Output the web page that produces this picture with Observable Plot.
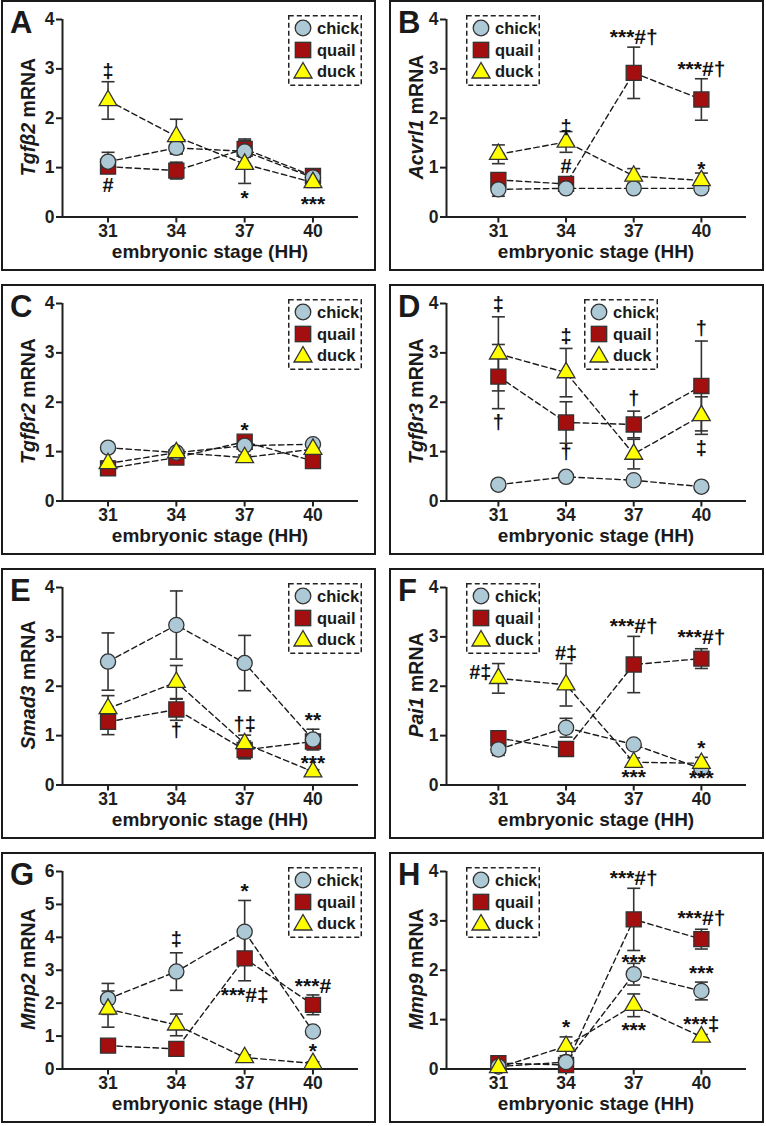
<!DOCTYPE html>
<html><head><meta charset="utf-8">
<script src="https://cdn.jsdelivr.net/npm/d3@7"></script>
<script src="https://cdn.jsdelivr.net/npm/@observablehq/plot@0.6"></script>
<style>
html,body{margin:0;padding:0;background:#fff;}
body{font-family:"Liberation Sans",Arial,Helvetica,sans-serif;color:#1a1a1a;}
#fig{position:relative;width:766px;height:1126px;overflow:hidden;background:#fff;}
.panel{position:absolute;width:375px;height:271px;box-sizing:border-box;border:2px solid #1a1a1a;}
.inner{position:absolute;left:-2px;top:-2px;width:375px;height:271px;}
.inner > svg{position:absolute;left:0;top:0;}
.letter{position:absolute;font-size:31px;font-weight:bold;line-height:1;}
.ylab{position:absolute;font-size:19.5px;font-weight:bold;white-space:nowrap;line-height:1;transform:translate(-50%,-50%) rotate(-90deg);}
.xlab{position:absolute;font-size:19px;font-weight:bold;white-space:nowrap;line-height:1;transform:translate(-50%,-50%);}
.legend{position:absolute;width:74px;height:71px;}
.legend .frame{position:absolute;left:0;top:0;}
.legend .sym{position:absolute;width:20px;height:20px;}
.legend .lab{position:absolute;font-size:16.5px;font-weight:bold;line-height:1;transform:translateY(-50%);}
</style>
</head><body>
<div id="fig"></div>
<script>
const stages = [31, 34, 37, 40];
const speciesNames = ["chick", "quail", "duck"];
const colors = {chick: "#adc9d5", quail: "#a30e0e", duck: "#ffff00"};

// A: Tgfb2
const A_chick = [1.12, 1.40, 1.33, 0.80];
const A_chick_se = [0.19, 0.12, 0.25, 0.05];
const A_quail = [1.02, 0.94, 1.38, 0.83];
const A_quail_se = [0.08, 0.17, 0.17, 0.05];
const A_duck = [2.36, 1.63, 1.07, 0.70];
const A_duck_se = [0.38, 0.35, 0.39, 0.10];
const A_notes = [[31, 2.94, "‡"], [31, 0.63, "#"], [37, 0.47, "*"], [40, 0.33, "***"]];

// B: Acvrl1
const B_chick = [0.56, 0.58, 0.58, 0.58];
const B_chick_se = [0.14, 0.05, 0.05, 0.05];
const B_quail = [0.75, 0.67, 2.92, 2.38];
const B_quail_se = [0.10, 0.05, 0.52, 0.42];
const B_duck = [1.27, 1.52, 0.83, 0.74];
const B_duck_se = [0.19, 0.21, 0.15, 0.15];
const B_notes = [[34, 1.82, "‡"], [34, 1.02, "#"], [37, 3.72, "***#†"], [40, 3.07, "***#†"], [40, 1.05, "*"]];

// C: Tgfbr2
const C_chick = [1.08, 0.98, 1.12, 1.15];
const C_chick_se = [0.05, 0.05, 0.05, 0.05];
const C_quail = [0.66, 0.88, 1.20, 0.81];
const C_quail_se = [0.12, 0.05, 0.05, 0.05];
const C_duck = [0.76, 0.98, 0.88, 1.05];
const C_duck_se = [0.05, 0.05, 0.05, 0.05];
const C_notes = [[37, 1.51, "*"]];

// D: Tgfbr3
const D_chick = [0.33, 0.49, 0.42, 0.29];
const D_chick_se = [0.03, 0.05, 0.05, 0.03];
const D_quail = [2.52, 1.59, 1.55, 2.33];
const D_quail_se = [0.65, 0.42, 0.27, 0.91];
const D_duck = [2.98, 2.60, 0.95, 1.73];
const D_duck_se = [0.75, 0.49, 0.30, 0.38];
const D_notes = [[31, 3.98, "‡"], [31, 1.59, "†"], [34, 3.32, "‡"], [34, 0.98, "†"], [37, 2.07, "†"], [40, 3.49, "†"], [40, 1.06, "‡"]];

// E: Smad3
const E_chick = [2.50, 3.24, 2.47, 0.92];
const E_chick_se = [0.58, 0.69, 0.56, 0.21];
const E_quail = [1.28, 1.53, 0.71, 0.88];
const E_quail_se = [0.26, 0.22, 0.18, 0.10];
const E_duck = [1.55, 2.08, 0.84, 0.27];
const E_duck_se = [0.26, 0.34, 0.17, 0.04];
const E_notes = [[34, 1.11, "†"], [37, 1.22, "†‡"], [40, 1.40, "**"], [40, 0.53, "***"]];

// F: Pai1
const F_chick = [0.72, 1.16, 0.82, 0.33];
const F_chick_se = [0.12, 0.19, 0.08, 0.05];
const F_quail = [0.95, 0.73, 2.44, 2.56];
const F_quail_se = [0.14, 0.08, 0.57, 0.20];
const F_duck = [2.16, 2.03, 0.46, 0.44];
const F_duck_se = [0.30, 0.43, 0.09, 0.12];
const F_notes = [[30.2, 2.27, "#‡"], [34, 2.67, "#‡"], [37, 3.29, "***#†"], [40, 3.08, "***#†"], [40, 0.82, "*"], [37, 0.24, "***"], [40, 0.22, "***"]];

// G: Mmp2
const G_chick = [2.13, 2.96, 4.17, 1.14];
const G_chick_se = [0.47, 0.57, 0.95, 0.10];
const G_quail = [0.71, 0.61, 3.36, 1.95];
const G_quail_se = [0.10, 0.10, 0.68, 0.30];
const G_duck = [1.82, 1.34, 0.35, 0.17];
const G_duck_se = [0.55, 0.33, 0.08, 0.05];
const G_notes = [[34, 3.92, "‡"], [37, 5.52, "*"], [37, 2.35, "***#‡"], [40, 2.65, "***#"], [40, 0.66, "*"]];

// H: Mmp9
const H_chick = [0.05, 0.14, 1.92, 1.58];
const H_chick_se = [0.03, 0.08, 0.22, 0.18];
const H_quail = [0.12, 0.08, 3.03, 2.63];
const H_quail_se = [0.05, 0.05, 0.63, 0.20];
const H_duck = [0.03, 0.46, 1.29, 0.65];
const H_duck_se = [0.02, 0.19, 0.23, 0.05];
const H_notes = [[34, 0.92, "*"], [37, 3.95, "***#†"], [40, 3.13, "***#†"], [37, 2.24, "***"], [40, 2.01, "***"], [37, 0.86, "***"], [40, 0.99, "***‡"]];

const panels = [
  {id: "A", gene: "Tgfβ2", ymax: 4, col: 0, row: 0, leg: 287, s: {chick: [A_chick, A_chick_se], quail: [A_quail, A_quail_se], duck: [A_duck, A_duck_se]}, notes: A_notes},
  {id: "B", gene: "Acvrl1", ymax: 4, col: 1, row: 0, leg: 77, s: {chick: [B_chick, B_chick_se], quail: [B_quail, B_quail_se], duck: [B_duck, B_duck_se]}, notes: B_notes},
  {id: "C", gene: "Tgfβr2", ymax: 4, col: 0, row: 1, leg: 287, s: {chick: [C_chick, C_chick_se], quail: [C_quail, C_quail_se], duck: [C_duck, C_duck_se]}, notes: C_notes},
  {id: "D", gene: "Tgfβr3", ymax: 4, col: 1, row: 1, leg: 195, s: {chick: [D_chick, D_chick_se], quail: [D_quail, D_quail_se], duck: [D_duck, D_duck_se]}, notes: D_notes},
  {id: "E", gene: "Smad3", ymax: 4, col: 0, row: 2, leg: 287, s: {chick: [E_chick, E_chick_se], quail: [E_quail, E_quail_se], duck: [E_duck, E_duck_se]}, notes: E_notes},
  {id: "F", gene: "Pai1", ymax: 4, col: 1, row: 2, leg: 77, s: {chick: [F_chick, F_chick_se], quail: [F_quail, F_quail_se], duck: [F_duck, F_duck_se]}, notes: F_notes},
  {id: "G", gene: "Mmp2", ymax: 6, col: 0, row: 3, leg: 287, s: {chick: [G_chick, G_chick_se], quail: [G_quail, G_quail_se], duck: [G_duck, G_duck_se]}, notes: G_notes},
  {id: "H", gene: "Mmp9", ymax: 4, col: 1, row: 3, leg: 77, s: {chick: [H_chick, H_chick_se], quail: [H_quail, H_quail_se], duck: [H_duck, H_duck_se]}, notes: H_notes}
];

const colLefts = [1, 389];
const rowTops = [0, 284, 568, 852];
const W = 375, H = 271;
const ink = "#1f1f1f";

const capSymbol = {
  draw(context, size) {
    const w = Math.sqrt(size / Math.PI);
    context.moveTo(-w, 0);
    context.lineTo(w, 0);
  }
};

const symbolSvg = {
  chick: `<svg width="20" height="20"><circle cx="10" cy="10" r="7.8" fill="${colors.chick}" stroke="#333" stroke-width="1.3"/></svg>`,
  quail: `<svg width="20" height="20"><rect x="2.3" y="2.3" width="15.4" height="15.4" fill="${colors.quail}" stroke="#333" stroke-width="1.3"/></svg>`,
  duck: `<svg width="20" height="20"><path d="M10,1.5 L18.9,17 L1.1,17 Z" fill="${colors.duck}" stroke="#333" stroke-width="1.3"/></svg>`
};

const fig = document.getElementById("fig");

for (const p of panels) {
  const rows = [];
  for (const sp of speciesNames) {
    const [vals, ses] = p.s[sp];
    stages.forEach((st, i) => rows.push({species: sp, stage: st, value: vals[i], se: ses[i]}));
  }
  const caps = rows.flatMap(d => [{stage: d.stage, y: d.value - d.se}, {stage: d.stage, y: d.value + d.se}]);
  const right = p.col === 1;
  const axisLeft = right ? 57 : 61;
  const xDomain = right ? [28.7, 42] : [29, 42];
  const yTicks = d3.range(0, p.ymax + 1);
  const starNotes = p.notes.filter(d => d[2].startsWith("*"));
  const otherNotes = p.notes.filter(d => !d[2].startsWith("*"));

  const chart = Plot.plot({
    width: W, height: H,
    marginLeft: axisLeft, marginRight: W - 357, marginTop: 19, marginBottom: H - 216.5,
    x: {domain: xDomain},
    y: {domain: [0, p.ymax]},
    style: {fontFamily: "'Liberation Sans', Arial, sans-serif", fontSize: "17.5px", fontWeight: "bold", color: ink, background: "transparent", overflow: "visible"},
    marks: [
      Plot.ruleY([0], {x1: xDomain[0], x2: xDomain[1], stroke: ink, strokeWidth: 2}),
      Plot.ruleX([xDomain[0]], {y1: 0, y2: p.ymax, stroke: ink, strokeWidth: 2}),
      Plot.axisX({ticks: stages, tickSize: 6, tickPadding: 2, tickFormat: d => String(d), stroke: ink, strokeWidth: 2, fill: ink, label: null}),
      Plot.axisY({ticks: yTicks, tickSize: 6, tickPadding: 2, tickFormat: d => String(d), stroke: ink, strokeWidth: 2, fill: ink, label: null}),
      Plot.ruleX(rows, {x: "stage", y1: d => d.value - d.se, y2: d => d.value + d.se, stroke: "#333", strokeWidth: 1.6}),
      Plot.dot(caps, {x: "stage", y: "y", symbol: capSymbol, r: 6.5, fill: "none", stroke: "#333", strokeWidth: 1.6}),
      Plot.line(rows, {x: "stage", y: "value", z: "species", stroke: "#1a1a1a", strokeWidth: 1.4, strokeDasharray: "5.5,3.5"}),
      Plot.dot(rows.filter(d => d.species === "quail"), {x: "stage", y: "value", symbol: "square", r: 8.5, fill: colors.quail, stroke: "#333", strokeWidth: 1.3}),
      Plot.dot(rows.filter(d => d.species === "chick"), {x: "stage", y: "value", symbol: "circle", r: 7.6, fill: colors.chick, stroke: "#333", strokeWidth: 1.3}),
      Plot.dot(rows.filter(d => d.species === "duck"), {x: "stage", y: "value", symbol: "triangle", r: 6.6, fill: colors.duck, stroke: "#333", strokeWidth: 1.3}),
      Plot.text(otherNotes, {x: d => d[0], y: d => d[1], text: d => d[2], fontSize: 20, fontWeight: "bold", fill: "#111"}),
      Plot.text(starNotes, {x: d => d[0], y: d => d[1], text: d => d[2], fontSize: 21, fontWeight: "bold", fill: "#111", dy: 4})
    ]
  });

  const panel = document.createElement("div");
  panel.className = "panel";
  panel.style.left = colLefts[p.col] + "px";
  panel.style.top = rowTops[p.row] + "px";
  const inner = document.createElement("div");
  inner.className = "inner";
  inner.appendChild(chart);

  const letter = document.createElement("div");
  letter.className = "letter";
  letter.textContent = p.id;
  letter.style.left = "9px";
  letter.style.top = "7px";
  inner.appendChild(letter);

  const ylab = document.createElement("div");
  ylab.className = "ylab";
  ylab.innerHTML = `<i>${p.gene}</i> mRNA`;
  ylab.style.left = "28px";
  ylab.style.top = "117px";
  inner.appendChild(ylab);

  const xlab = document.createElement("div");
  xlab.className = "xlab";
  xlab.textContent = "embryonic stage (HH)";
  xlab.style.left = ((axisLeft + 357) / 2) + "px";
  xlab.style.top = "251px";
  inner.appendChild(xlab);

  const leg = document.createElement("div");
  leg.className = "legend";
  leg.style.left = p.leg + "px";
  leg.style.top = "15px";
  leg.innerHTML = `<svg class="frame" width="74" height="71"><rect x="0.75" y="0.75" width="72.5" height="69.5" fill="none" stroke="#222" stroke-width="1.5" stroke-dasharray="5,3"/></svg>`;
  speciesNames.forEach((sp, i) => {
    const cy = 13 + i * 21.5;
    const sym = document.createElement("div");
    sym.className = "sym";
    sym.style.left = "5px";
    sym.style.top = (cy - 10) + "px";
    sym.innerHTML = symbolSvg[sp];
    leg.appendChild(sym);
    const lab = document.createElement("div");
    lab.className = "lab";
    lab.style.left = "29px";
    lab.style.top = cy + "px";
    lab.textContent = sp;
    leg.appendChild(lab);
  });
  inner.appendChild(leg);

  panel.appendChild(inner);
  fig.appendChild(panel);
}
</script>
</body></html>
